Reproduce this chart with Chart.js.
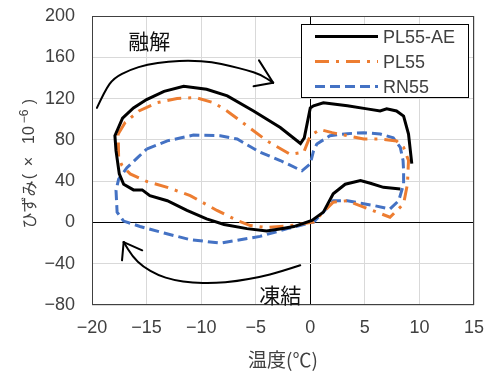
<!DOCTYPE html>
<html><head><meta charset="utf-8">
<script src="https://cdn.jsdelivr.net/npm/chart.js@4/dist/chart.umd.min.js"></script>
<style>html,body{margin:0;padding:0;background:#fff}#wrap{width:491px;height:376px}</style>
</head><body><div id="wrap"><canvas id="c" width="491" height="376"></canvas></div>
<script>
// ---- data (temperature °C, strain ×10^-6) ----
const seriesNames = ['PL55-AE', 'PL55', 'RN55'];
const AE_x = [8.25, 6.7, 5.5, 4.6, 3.2, 2.1, 1.2, 0.15, -1.5, -2.8, -4.0, -5.8, -7.9, -9.5, -11.3, -13.1, -14.7, -15.4, -16.2, -17.1, -17.5, -17.8, -17.9, -17.2, -16.2, -15.0, -13.4, -11.6, -9.5, -7.6, -5.2, -2.75, -0.9, -0.55, 0, 0.3, 1.2, 3.4, 5.2, 6.4, 7.0, 7.9, 8.55, 9.0, 9.3];
const AE_y = [32.5, 34, 38, 40.5, 37, 27.7, 10, 2, -4, -6.3, -8.4, -6, -2, 3.5, 11.6, 21, 26, 31.5, 31.5, 37, 47, 69.5, 84, 101, 111, 119, 127, 132, 129, 122.6, 108, 92, 76.5, 82, 111, 113, 116, 113, 110, 108, 110, 108, 103, 85.6, 57];
const PL_x = [-17.6, -16.95, -15.7, -14.05, -12.2, -10.5, -8.86, -7.63, -5.8, -3.97, -1.83, -0.6, 0, 0.9, 2.0, 3.4, 4.9, 6.4, 7.9, 8.55, 9.0, 8.9, 8.55, 7.3, 6.1, 4.9, 3.4, 2.1, 1.2, 0.3, -1.8, -4.0, -5.5, -6.7, -8.55, -11.0, -13.1, -14.96, -16.5, -17.25, -17.56, -17.6];
const PL_y = [85.6, 97, 108, 116, 120, 121, 116, 108, 93.6, 79, 66, 68, 84, 90, 87, 84, 80.8, 80.8, 79, 72.7, 60, 37, 18, 5, 10, 14.8, 21, 19.6, 10, 0.3, -3, -5, -3, 2, 11.6, 26, 34, 39.6, 47, 55, 63, 85.6];
const RN_x = [-15.0, -13.1, -10.7, -8.25, -6.7, -4.6, -2.75, -0.76, 0, 0.3, 0.6, 1.8, 3.4, 4.9, 6.4, 7.6, 8.25, 8.5, 8.55, 8.55, 8.1, 7.3, 5.8, 3.4, 2.1, 1.2, 0.3, -2.1, -4.6, -8.25, -11, -13.4, -15.6, -17.1, -17.7, -17.8, -17.56, -16.8, -15.8, -15.0];
const RN_y = [71, 79, 84.6, 84, 80.8, 68, 60, 50, 56.7, 69.5, 76, 84, 86, 87, 85.6, 82, 72.7, 60, 50, 37, 21, 13, 16.4, 21, 21, 10, 0.3, -6, -13.5, -20, -16.7, -10.3, -3.9, 1.3, 10, 31, 42, 53, 63, 71];
// annotations (data coordinates)
const meltArrow = [[-19.55,111],[-18.8,128],[-18.0,140],[-16.5,148],[-14.96,153],[-13,156],[-11,157],[-9,155.5],[-7.3,151.5],[-5.8,147.5],[-4.6,143.5],[-3.4,135.4]];
const meltHead = [[-4.7,157],[-5.2,132]];
const freezeArrow = [[-0.92,-41.5],[-2.8,-48],[-4.6,-52.8],[-6.7,-57],[-8.86,-59],[-10.8,-58.5],[-12.5,-56],[-14.0,-51],[-15.3,-43],[-16.3,-33],[-17.1,-19]];
const freezeHead = [[-17.25,-36.7],[-15.4,-27]];
const notes = [{text:'融解', x:-14.75, y:175.8}, {text:'凍結', x:-2.75, y:-70.3}];
const yTitle = {main: 'ひずみ', open: '(', times: '×', base: '10', exp: '−6', close: ')'};
const xTitle = '温度(℃)';

const zip = (xs, ys) => xs.map((x, i) => ({x, y: ys[i]}));
const minusFmt = v => String(v).replace('-', '\u2212');
const CJK = '"Noto Sans CJK JP"';
const LAT = '"Liberation Sans"';

const annot = {
  id: 'annot',
  beforeDatasetsDraw(chart) {
    const {ctx, chartArea: a} = chart;
    ctx.save();
    ctx.strokeStyle = '#404040'; ctx.lineWidth = 1;
    ctx.strokeRect(a.left + 0.5, a.top + 0.5, a.right - a.left - 1, a.bottom - a.top - 1);
    ctx.restore();
  },
  afterDatasetsDraw(chart) {
    const {ctx, scales: {x, y}} = chart;
    const P = p => [x.getPixelForValue(p[0]), y.getPixelForValue(p[1])];
    ctx.save();
    ctx.strokeStyle = '#000'; ctx.lineWidth = 2; ctx.lineCap = 'round'; ctx.lineJoin = 'round';
    const drawArrow = (pts, head) => {
      const q = pts.map(P);
      ctx.beginPath(); ctx.moveTo(q[0][0], q[0][1]);
      for (let i = 1; i < q.length - 1; i++) {
        const mx = (q[i][0] + q[i+1][0]) / 2, my = (q[i][1] + q[i+1][1]) / 2;
        ctx.quadraticCurveTo(q[i][0], q[i][1], mx, my);
      }
      ctx.lineTo(q[q.length-1][0], q[q.length-1][1]);
      ctx.stroke();
      const t = q[q.length-1];
      head.map(P).forEach(h => { ctx.beginPath(); ctx.moveTo(t[0], t[1]); ctx.lineTo(h[0], h[1]); ctx.stroke(); });
    };
    drawArrow(meltArrow, meltHead);
    drawArrow(freezeArrow, freezeHead);
    const fs = 21;
    ctx.fillStyle = '#111'; ctx.font = fs + 'px ' + CJK; ctx.textAlign = 'center'; ctx.textBaseline = 'alphabetic';
    notes.forEach(n => { const p = P([n.x, n.y]); ctx.fillText(n.text, p[0], p[1] + 0.38 * fs); });
    ctx.restore();
  },
  afterDraw(chart) {
    const {ctx, chartArea: a} = chart;
    ctx.save();
    // legend
    const bx = a.left + 209, by = a.top + 8, bw = 168, bh = 74;
    ctx.fillStyle = '#fff'; ctx.fillRect(bx, by, bw, bh);
    ctx.strokeStyle = '#000'; ctx.lineWidth = 1; ctx.strokeRect(bx + 0.5, by + 0.5, bw - 1, bh - 1);
    chart.data.datasets.forEach((ds, i) => {
      const cy = by + 12.5 + i * 25;
      ctx.strokeStyle = ds.borderColor; ctx.lineWidth = ds.borderWidth; ctx.setLineDash(ds.borderDash || []);
      ctx.lineCap = 'butt';
      ctx.beginPath(); ctx.moveTo(bx + 14, cy); ctx.lineTo(bx + 77, cy); ctx.stroke();
      ctx.setLineDash([]);
      ctx.fillStyle = '#404040'; ctx.font = '18px ' + LAT; ctx.textAlign = 'left'; ctx.textBaseline = 'alphabetic';
      ctx.fillText(ds.label, bx + 82, cy + 6.5);
    });
    // y-axis title (rotated)
    const mid = (a.top + a.bottom) / 2;
    ctx.translate(34, mid);
    ctx.rotate(-Math.PI / 2);
    ctx.fillStyle = '#404040'; ctx.textAlign = 'center'; ctx.textBaseline = 'alphabetic';
    ctx.font = '16px ' + CJK; ctx.fillText(yTitle.main, -44, 1);
    ctx.font = '16px ' + LAT;
    ctx.fillText(yTitle.open, -16, 0);
    ctx.fillText(yTitle.times, -1, 0);
    ctx.fillText(yTitle.base, 25.5, 0);
    ctx.fillText(yTitle.close, 59, 0);
    ctx.font = '12px ' + LAT; ctx.fillText(yTitle.exp, 44, -6.5);
    ctx.restore();
  }
};

const gridColor = c => (c.tick && c.tick.value === 0) ? '#000' : '#d9d9d9';
const noPad = s => { s.paddingTop = 0; s.paddingBottom = 0; s.paddingLeft = 0; s.paddingRight = 0; };

new Chart(document.getElementById('c'), {
  type: 'scatter',
  data: {
    datasets: [
      {label: seriesNames[0], data: zip(AE_x, AE_y), borderColor: '#000000', borderWidth: 3, showLine: true, pointRadius: 0, tension: 0},
      {label: seriesNames[1], data: zip(PL_x, PL_y), borderColor: '#ED7D31', borderWidth: 3, borderDash: [14, 7, 3, 7], showLine: true, pointRadius: 0, tension: 0},
      {label: seriesNames[2], data: zip(RN_x, RN_y), borderColor: '#4472C4', borderWidth: 3, borderDash: [10, 5], showLine: true, pointRadius: 0, tension: 0}
    ]
  },
  options: {
    responsive: false, animation: false, devicePixelRatio: 1,
    layout: {padding: {left: 0, top: 16, right: 17, bottom: 0}},
    plugins: {legend: {display: false}, tooltip: {enabled: false}},
    scales: {
      x: {
        type: 'linear', min: -20, max: 15,
        ticks: {stepSize: 5, padding: 12, color: '#404040', font: {family: 'Liberation Sans', size: 18}, callback: minusFmt},
        grid: {color: gridColor, drawTicks: false, lineWidth: 1},
        border: {display: false},
        title: {display: true, text: xTitle, color: '#404040', font: {family: 'Noto Sans CJK JP', size: 19}, padding: {top: 0, bottom: 5}},
        afterFit: s => { s.height = 71; noPad(s); }
      },
      y: {
        type: 'linear', min: -80, max: 200,
        ticks: {stepSize: 40, padding: 17, color: '#404040', font: {family: 'Liberation Sans', size: 18}, callback: minusFmt},
        grid: {color: gridColor, drawTicks: false, lineWidth: 1},
        border: {display: false},
        title: {display: false},
        afterFit: s => { s.width = 92; noPad(s); }
      }
    }
  },
  plugins: [annot]
});
</script></body></html>
